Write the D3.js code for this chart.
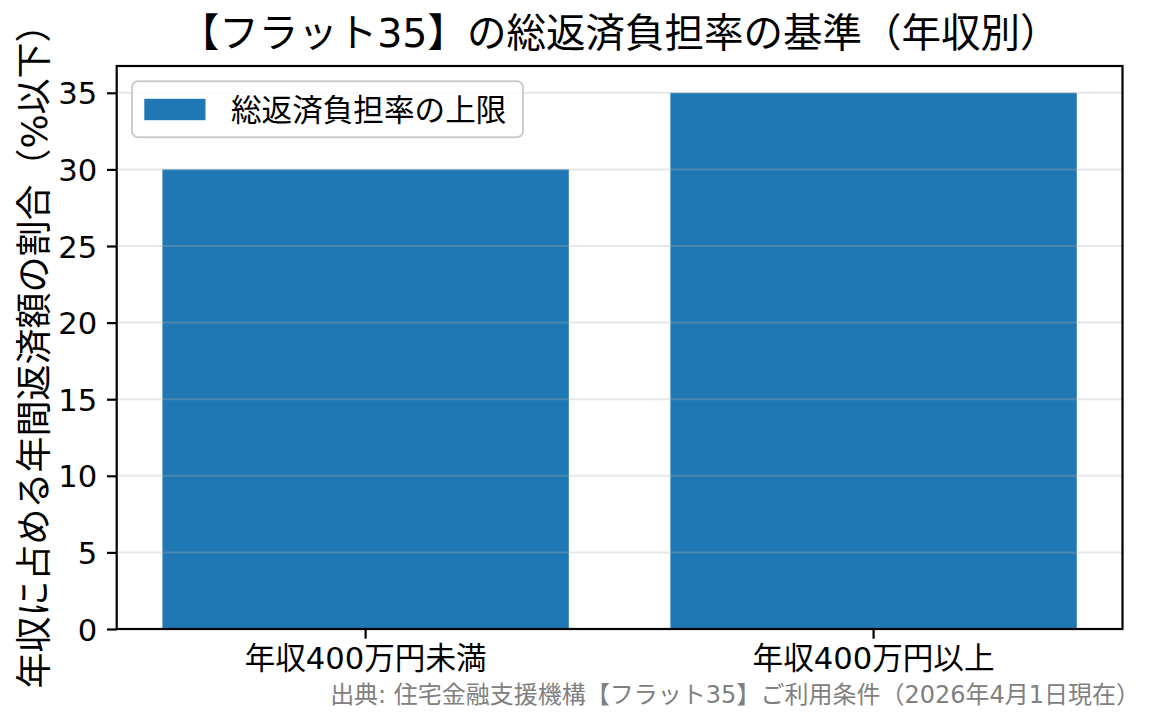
<!DOCTYPE html>
<html>
<head>
<meta charset="utf-8">
<style>
  body { margin: 0; background: #fff; }
  svg { display: block; font-family: "DejaVu Sans", "Noto Sans CJK JP", sans-serif; }
</style>
</head>
<body>
<script src="https://cdn.jsdelivr.net/npm/d3@7/dist/d3.min.js"></script>
<svg id="chart" width="1165" height="725"></svg>
<script>
// data
const categories = ["年収400万円未満", "年収400万円以上"];
const ratioLimit = [30, 35];
const yTicks = [0, 5, 10, 15, 20, 25, 30, 35];
const seriesName = "総返済負担率の上限";
const title = "【フラット35】の総返済負担率の基準（年収別）";
const yLabel = "年収に占める年間返済額の割合（%以下）";
const source = "出典: 住宅金融支援機構【フラット35】ご利用条件（2026年4月1日現在）";

const plotL = 116.7, plotR = 1122.5, plotT = 66, plotB = 629;
const tickLen = 9.7, tickPad = 9.7;
const barColor = "#1f77b4";
const fontStack = '"DejaVu Sans", "Noto Sans CJK JP", sans-serif';

const svg = d3.select("#chart");

const x = d3.scaleBand()
    .domain(categories)
    .range([plotL, plotR])
    .paddingInner(0.2)
    .paddingOuter(0.09);
const y = d3.scaleLinear().domain([0, 36.75]).range([plotB, plotT]);

// bars
svg.append("g").selectAll("rect")
    .data(ratioLimit)
    .enter()
    .append("rect")
    .attr("x", (d, i) => x(categories[i]))
    .attr("width", x.bandwidth())
    .attr("y", d => y(d))
    .attr("height", d => y(0) - y(d))
    .style("fill", barColor);

// grid, drawn over the bars
svg.append("g").selectAll("line")
    .data(yTicks)
    .enter()
    .append("line")
    .attr("x1", plotL).attr("x2", plotR)
    .attr("y1", d => y(d)).attr("y2", d => y(d))
    .style("stroke", "#b0b0b0")
    .style("stroke-opacity", 0.3)
    .style("stroke-width", "2px");

// axes
const yAxis = d3.axisLeft(y).tickValues(yTicks).tickSize(tickLen).tickPadding(tickPad);
const yG = svg.append("g").attr("transform", `translate(${plotL},0)`).call(yAxis);
const xAxis = d3.axisBottom(x).tickSize(tickLen).tickPadding(tickPad);
const xG = svg.append("g").attr("transform", `translate(0,${plotB})`).call(xAxis);

[yG, xG].forEach(g => {
    g.select(".domain").remove();
    g.selectAll(".tick line").style("stroke", "#000").style("stroke-width", "2.2px");
    g.selectAll(".tick text").style("font-size", "30.6px").style("fill", "#000")
        .style("font-family", fontStack);
});
yG.selectAll(".tick text").attr("dy", "0.36em");
xG.selectAll(".tick text").attr("dy", "0.66em");

// frame
svg.append("rect")
    .attr("x", plotL).attr("y", plotT)
    .attr("width", plotR - plotL).attr("height", plotB - plotT)
    .style("fill", "none").style("stroke", "#000").style("stroke-width", "2.2px");

// legend
const lg = svg.append("g").attr("transform", `translate(${plotL + 15.3},${plotT + 15.3})`);
lg.append("rect")
    .attr("width", 391).attr("height", 56)
    .attr("rx", 6).attr("ry", 6)
    .style("fill", "#fff").style("fill-opacity", 0.8)
    .style("stroke", "#cccccc").style("stroke-width", "2px");
lg.append("rect")
    .attr("x", 12.3).attr("y", 17.5)
    .attr("width", 61.2).attr("height", 21.4)
    .style("fill", barColor);
lg.append("text")
    .attr("x", 99).attr("y", 28.5).attr("dy", "0.36em")
    .style("font-size", "30.6px")
    .text(seriesName);

// title
svg.append("text")
    .attr("x", (plotL + plotR) / 2).attr("y", 47)
    .attr("text-anchor", "middle")
    .style("font-size", "39.5px")
    .text(title);

// y label
svg.append("text")
    .attr("transform", `translate(47,${(plotT + plotB) / 2}) rotate(-90)`)
    .attr("text-anchor", "middle")
    .style("font-size", "36px")
    .text(yLabel);

// source note
svg.append("text")
    .attr("x", 1140).attr("y", 703)
    .attr("text-anchor", "end")
    .style("font-size", "24px")
    .style("fill", "#808080")
    .text(source);
</script>
</body>
</html>
